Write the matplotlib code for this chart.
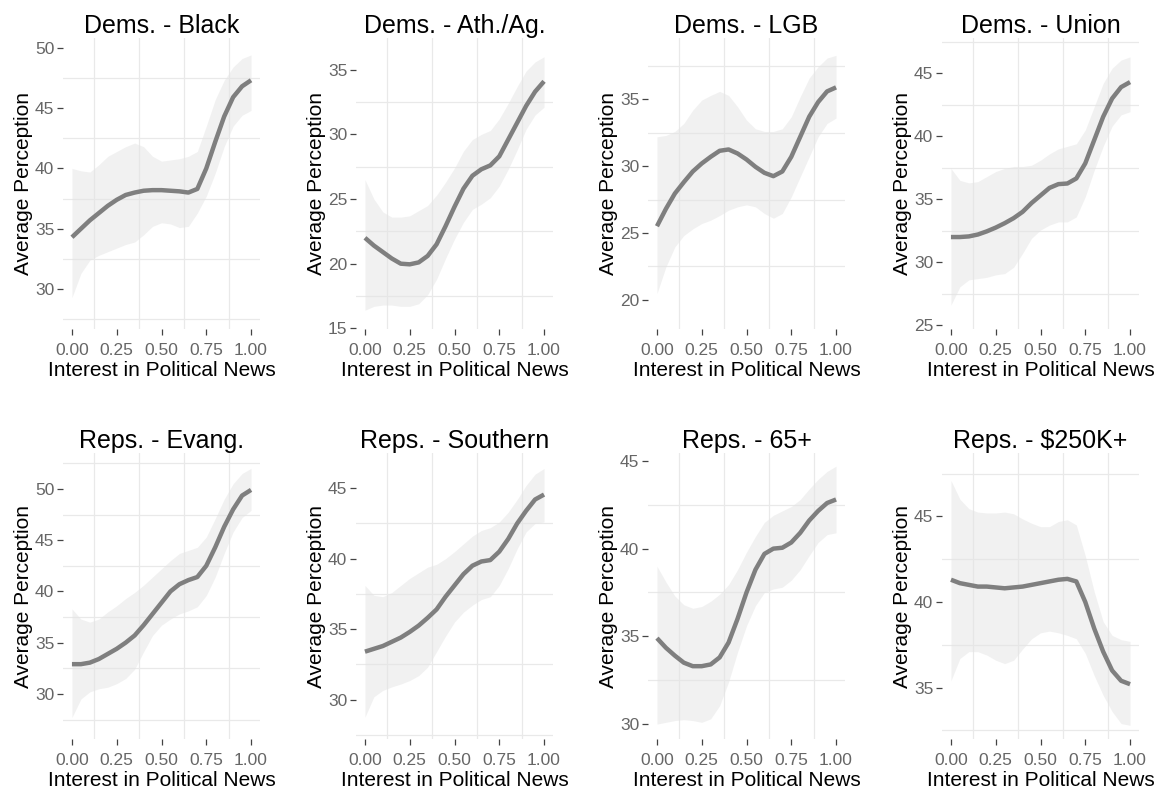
import numpy as np
import matplotlib
matplotlib.use("Agg")
import matplotlib.pyplot as plt

plt.rcParams["font.family"] = ["Liberation Sans", "DejaVu Sans"]

# x positions of the read-off points (shared by every panel)
interest = [0.00, 0.05, 0.10, 0.15, 0.20, 0.25, 0.30, 0.35, 0.40, 0.45, 0.50,
            0.55, 0.60, 0.65, 0.70, 0.75, 0.80, 0.85, 0.90, 0.95, 1.00]

titles = ["Dems. - Black", "Dems. - Ath./Ag.", "Dems. - LGB", "Dems. - Union",
          "Reps. - Evang.", "Reps. - Southern", "Reps. - 65+", "Reps. - $250K+"]

# smoothed averages
black_fit = [34.3, 35.0, 35.7, 36.3, 36.9, 37.4, 37.8, 38.0, 38.15, 38.2, 38.2,
             38.15, 38.1, 38.0, 38.3, 40.0, 42.2, 44.3, 45.9, 46.8, 47.3]
athag_fit = [22.0, 21.4, 20.9, 20.4, 20.0, 19.95, 20.1, 20.6, 21.5, 22.9, 24.4,
             25.8, 26.8, 27.3, 27.6, 28.3, 29.6, 30.9, 32.2, 33.3, 34.1]
lgb_fit = [25.5, 26.8, 27.95, 28.8, 29.6, 30.2, 30.7, 31.15, 31.25, 30.95, 30.5,
           29.95, 29.5, 29.25, 29.6, 30.7, 32.2, 33.7, 34.8, 35.6, 35.9]
union_fit = [32.0, 32.0, 32.05, 32.2, 32.45, 32.75, 33.1, 33.5, 34.0, 34.7, 35.3,
             35.9, 36.2, 36.25, 36.65, 37.85, 39.7, 41.55, 43.0, 43.9, 44.3]
evang_fit = [32.9, 32.9, 33.05, 33.4, 33.9, 34.4, 35.0, 35.7, 36.7, 37.8, 38.9,
             40.0, 40.7, 41.1, 41.4, 42.5, 44.3, 46.3, 48.0, 49.35, 49.9]
south_fit = [33.4, 33.6, 33.8, 34.1, 34.4, 34.8, 35.25, 35.8, 36.4, 37.3, 38.1,
             38.9, 39.5, 39.8, 39.9, 40.5, 41.4, 42.5, 43.4, 44.2, 44.55]
old_fit = [34.9, 34.35, 33.9, 33.5, 33.3, 33.3, 33.4, 33.8, 34.65, 36.0, 37.5,
           38.8, 39.7, 40.0, 40.05, 40.35, 40.9, 41.6, 42.15, 42.6, 42.8]
rich_fit = [41.3, 41.1, 41.0, 40.9, 40.9, 40.85, 40.8, 40.85, 40.9, 41.0, 41.1,
            41.2, 41.3, 41.35, 41.2, 40.0, 38.45, 37.1, 36.0, 35.4, 35.2]

# upper edges of the confidence bands
black_hi = [40.0, 39.8, 39.7, 40.3, 41.0, 41.4, 41.8, 42.1, 41.8, 41.0, 40.6,
            40.7, 40.8, 41.0, 41.4, 43.5, 45.7, 47.3, 48.4, 49.1, 49.4]
athag_hi = [26.5, 25.0, 24.0, 23.6, 23.6, 23.7, 24.1, 24.5, 25.3, 26.3, 27.4,
            28.7, 29.6, 30.0, 30.3, 31.2, 32.4, 33.7, 34.9, 35.6, 36.0]
lgb_hi = [32.2, 32.3, 32.6, 33.2, 34.2, 34.95, 35.3, 35.6, 35.3, 34.45, 33.45,
          32.8, 32.6, 32.6, 32.8, 33.7, 35.2, 36.6, 37.45, 38.1, 38.3]
union_hi = [37.45, 36.5, 36.3, 36.4, 36.8, 37.2, 37.45, 37.6, 37.6, 37.7, 38.1,
            38.6, 39.0, 39.2, 39.4, 40.5, 42.35, 44.2, 45.4, 46.05, 46.3]
evang_hi = [38.3, 37.3, 37.0, 37.3, 38.0, 38.6, 39.3, 39.9, 40.6, 41.4, 42.2,
            43.0, 43.7, 44.0, 44.3, 45.3, 47.1, 49.0, 50.5, 51.5, 52.0]
south_hi = [38.1, 37.4, 37.3, 37.6, 38.1, 38.6, 39.0, 39.4, 39.6, 40.0, 40.5,
            41.05, 41.6, 42.0, 42.2, 42.6, 43.3, 44.2, 45.2, 46.0, 46.4]
old_hi = [39.0, 38.1, 37.3, 36.8, 36.6, 36.7, 37.0, 37.4, 37.95, 38.8, 39.8,
          40.7, 41.5, 41.9, 42.15, 42.4, 42.8, 43.4, 43.95, 44.4, 44.7]
rich_hi = [47.1, 46.0, 45.45, 45.25, 45.2, 45.2, 45.25, 45.15, 44.85, 44.6, 44.4,
           44.4, 44.7, 44.8, 44.5, 42.7, 40.6, 38.85, 38.05, 37.8, 37.7]

# lower edges of the confidence bands
black_lo = [29.3, 31.3, 32.4, 32.8, 33.1, 33.4, 33.7, 33.9, 34.5, 35.2, 35.5,
            35.4, 35.1, 35.2, 36.3, 37.7, 39.6, 41.8, 43.5, 44.4, 44.8]
athag_lo = [16.4, 16.7, 16.8, 16.8, 16.7, 16.7, 16.9, 17.6, 18.8, 20.4, 21.9,
            23.2, 24.2, 24.6, 25.1, 26.0, 27.3, 28.8, 30.4, 31.5, 32.1]
lgb_lo = [20.45, 22.45, 23.95, 24.8, 25.3, 25.7, 25.95, 26.3, 26.7, 26.95, 27.1,
          26.95, 26.45, 26.1, 26.45, 27.7, 29.2, 30.7, 32.2, 33.2, 33.6]
union_lo = [26.6, 28.05, 28.6, 28.7, 28.8, 29.0, 29.1, 29.6, 30.7, 31.9, 32.55,
            32.95, 33.2, 33.2, 33.6, 35.2, 37.3, 39.2, 40.8, 41.7, 41.95]
evang_lo = [27.7, 29.5, 30.2, 30.5, 30.65, 31.0, 31.5, 32.4, 34.1, 35.7, 36.7,
            37.3, 37.8, 38.1, 38.5, 39.6, 41.4, 43.7, 45.8, 47.2, 47.9]
south_lo = [28.75, 30.2, 30.65, 30.9, 31.1, 31.35, 31.7, 32.3, 33.4, 34.5, 35.5,
            36.2, 36.7, 37.1, 37.3, 38.1, 39.3, 40.7, 41.9, 42.5, 42.6]
old_lo = [30.0, 30.1, 30.2, 30.25, 30.2, 30.1, 30.3, 31.05, 32.4, 34.1, 35.6,
          36.75, 37.5, 37.7, 37.8, 38.2, 38.8, 39.6, 40.35, 40.8, 40.9]
rich_lo = [35.4, 36.7, 37.1, 37.1, 36.9, 36.6, 36.4, 36.6, 37.25, 37.85, 38.2,
           38.3, 38.2, 38.05, 37.85, 37.0, 35.7, 34.55, 33.6, 32.9, 32.8]

fits = [black_fit, athag_fit, lgb_fit, union_fit, evang_fit, south_fit, old_fit, rich_fit]
highs = [black_hi, athag_hi, lgb_hi, union_hi, evang_hi, south_hi, old_hi, rich_hi]
lows = [black_lo, athag_lo, lgb_lo, union_lo, evang_lo, south_lo, old_lo, rich_lo]

y_ticks = [[30, 35, 40, 45, 50], [15, 20, 25, 30, 35], [20, 25, 30, 35], [25, 30, 35, 40, 45],
           [30, 35, 40, 45, 50], [30, 35, 40, 45], [30, 35, 40, 45], [35, 40, 45]]
y_limits = [(26.7, 50.8), (14.95, 37.45), (17.8, 39.6), (24.7, 47.8),
            (25.6, 53.5), (27.2, 47.5), (29.15, 45.45), (32.0, 48.7)]
x_ticks = [0.0, 0.25, 0.5, 0.75, 1.0]

W, H = 1156, 792
fig = plt.figure(figsize=(W / 100, H / 100), dpi=100)

# panel boxes in pixels: left, top, right, bottom
lefts = [63, 356, 648, 942]
rows = [(38, 329), (453, 739)]

for i in range(8):
    r, c = divmod(i, 4)
    top, bot = rows[r]
    left = lefts[c]
    right = left + 197
    ax = fig.add_axes([left / W, 1 - bot / H, (right - left) / W, (bot - top) / H])

    ylo, yhi = y_limits[i]
    minor_y = [t + 2.5 for t in [y_ticks[i][0] - 5] + y_ticks[i]]
    minor_y = [m for m in minor_y if ylo < m < yhi]
    for m in minor_y:
        ax.axhline(m, color="#e9e9e9", lw=0.9, zorder=0)
    for m in [0.125, 0.375, 0.625, 0.875]:
        ax.axvline(m, color="#e9e9e9", lw=0.9, zorder=0)

    ax.fill_between(interest, lows[i], highs[i], color="#e4e4e4", alpha=0.5,
                    lw=0, zorder=1)
    ax.plot(interest, fits[i], color="#7f7f7f", lw=3.2, solid_joinstyle="round",
            solid_capstyle="butt", zorder=2)

    ax.set_xlim(-0.05, 1.05)
    ax.set_ylim(ylo, yhi)
    ax.set_xticks(x_ticks)
    ax.set_xticklabels(["0.00", "0.25", "0.50", "0.75", "1.00"])
    ax.set_yticks(y_ticks[i])
    for s in ax.spines.values():
        s.set_visible(False)
    ax.tick_params(axis="both", length=4.3, width=0.9, color="#444444",
                   labelcolor="#666666", labelsize=12.5)
    ax.tick_params(axis="x", pad=6)
    ax.tick_params(axis="y", pad=2)
    ax.set_xlabel("Interest in Political News", fontsize=15, labelpad=2)
    ax.set_ylabel("Average Perception", fontsize=15, labelpad=1)
    ax.set_title(titles[i], fontsize=18, pad=2)
    ax.set_facecolor("white")

fig.savefig("out.png", dpi=100)
